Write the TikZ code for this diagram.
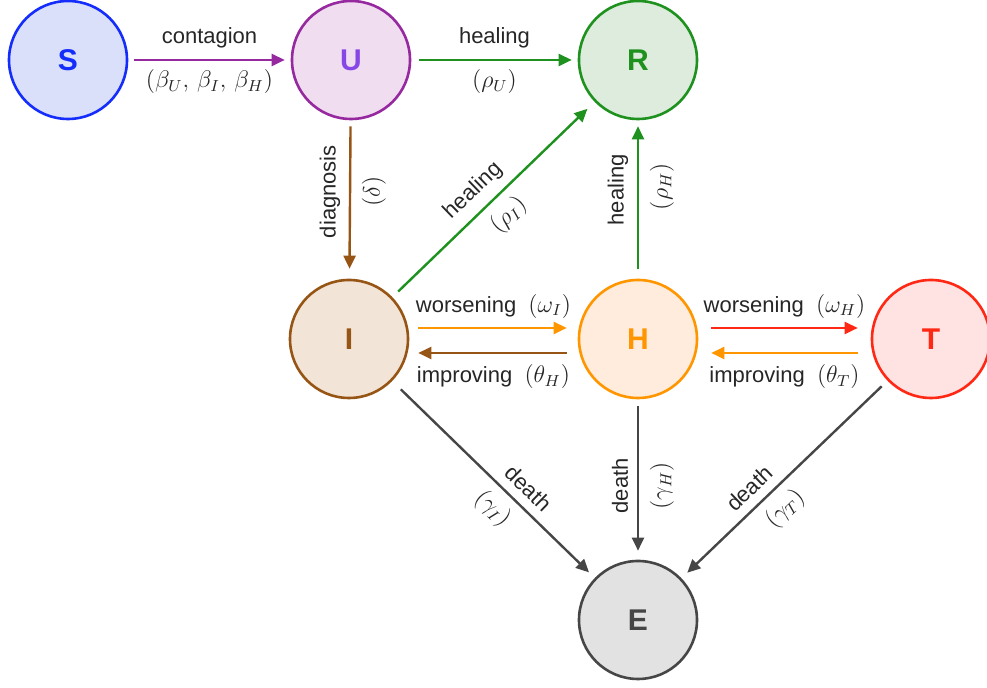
\documentclass[tikz,border=0pt]{standalone}
\usepackage[no-math]{fontspec}
\setmainfont{Liberation Sans}
\usetikzlibrary{arrows.meta}

\definecolor{sblue}{RGB}{20,45,250}
\definecolor{sfill}{RGB}{218,224,250}
\definecolor{upurple}{RGB}{150,40,160}
\definecolor{ufill}{RGB}{240,221,240}
\definecolor{uletter}{RGB}{135,70,230}
\definecolor{rgreen}{RGB}{30,145,30}
\definecolor{rfill}{RGB}{222,236,222}
\definecolor{ibrown}{RGB}{150,85,20}
\definecolor{ifill}{RGB}{242,228,214}
\definecolor{horange}{RGB}{255,150,0}
\definecolor{hfill}{RGB}{255,236,220}
\definecolor{tred}{RGB}{255,40,20}
\definecolor{tfill}{RGB}{255,226,226}
\definecolor{egray}{RGB}{70,70,70}
\definecolor{efill}{RGB}{226,226,226}

\newcommand{\rate}[1]{{\fontsize{12}{14}\selectfont$(#1)$}}

\begin{document}
\begin{tikzpicture}[x=0.5pt, y=-0.5pt,
    comp/.style={circle, line width=1.3pt, minimum size=59pt, inner sep=0pt,
                 font=\fontsize{15}{15}\selectfont\bfseries},
    flow/.style={line width=1.2pt, -{Triangle[length=6.5pt,width=6pt]}},
    lbl/.style={font=\fontsize{11}{13}\selectfont, text=black!85}]
        \useasboundingbox (0,0) rectangle (987,688);

        % compartments
        \node[comp, draw=sblue, fill=sfill, text=sblue] (S) at (68,60) {S};
        \node[comp, draw=upurple, fill=ufill, text=uletter] (U) at (351,60) {U};
        \node[comp, draw=rgreen, fill=rfill, text=rgreen] (R) at (638,60) {R};
        \node[comp, draw=ibrown, fill=ifill, text=ibrown] (I) at (349,339) {I};
        \node[comp, draw=horange, fill=hfill, text=horange] (H) at (638,339) {H};
        \node[comp, draw=tred, fill=tfill, text=tred] (T) at (931,339) {T};
        \node[comp, draw=egray, fill=efill, text=egray] (E) at (638,620) {E};

        % top row
        \draw[flow, upurple, shorten <=3pt, shorten >=3pt] (S) -- (U)
            node[lbl, midway, above=2pt] {contagion}
            node[lbl, midway, below=1pt] {\rate{\beta_U,\,\beta_I,\,\beta_H}};
        \draw[flow, rgreen, shorten <=4pt, shorten >=3pt] (U) -- (R)
            node[lbl, midway, above=2pt] {healing}
            node[lbl, midway, below=1pt] {\rate{\rho_U}};

        % vertical flows
        \draw[flow, ibrown, shorten <=3pt, shorten >=5pt] (U) -- (I)
            node[lbl, pos=.45, rotate=90, anchor=south, yshift=1pt] {diagnosis}
            node[lbl, pos=.45, rotate=90, anchor=north, yshift=-2pt] {\rate{\delta}};
        \draw[flow, rgreen, shorten <=5pt, shorten >=3pt] (H) -- (R)
            node[lbl, pos=.56, rotate=90, anchor=south, yshift=1pt] {healing}
            node[lbl, pos=.58, rotate=90, anchor=north, yshift=-2pt] {\rate{\rho_H}};
        \draw[flow, rgreen, shorten <=4pt, shorten >=5pt] (I) -- (R)
            node[lbl, pos=.47, sloped, above=1pt] {healing}
            node[lbl, pos=.5, sloped, below=1pt] {\rate{\rho_I}};

        % middle row
        \draw[flow, horange, shorten <=4.5pt, shorten >=5.5pt]
            ([yshift=5.5pt]I.east) -- ([yshift=5.5pt]H.west)
            node[lbl, midway, above=1pt] {worsening~~\rate{\omega_I}};
        \draw[flow, ibrown, shorten <=5.5pt, shorten >=4.5pt]
            ([yshift=-7pt]H.west) -- ([yshift=-7pt]I.east)
            node[lbl, midway, below=2pt] {improving~~\rate{\theta_H}};
        \draw[flow, tred, shorten <=6.5pt, shorten >=6.5pt]
            ([yshift=5.5pt]H.east) -- ([yshift=5.5pt]T.west)
            node[lbl, midway, above=1pt] {worsening~~\rate{\omega_H}};
        \draw[flow, horange, shorten <=6.5pt, shorten >=6.5pt]
            ([yshift=-7pt]T.west) -- ([yshift=-7pt]H.east)
            node[lbl, midway, below=2pt] {improving~~\rate{\theta_T}};

        % deaths
        \draw[flow, egray, shorten <=6pt, shorten >=4pt] (I) -- (E)
            node[lbl, pos=.61, sloped, above=1pt] {death}
            node[lbl, pos=.57, sloped, below=1pt] {\rate{\gamma_I}};
        \draw[flow, egray, shorten <=3.5pt, shorten >=4.5pt] (H) -- (E)
            node[lbl, pos=.54, rotate=90, anchor=south, yshift=1pt] {death}
            node[lbl, pos=.54, rotate=90, anchor=north, yshift=-2pt] {\rate{\gamma_H}};
        \draw[flow, egray, shorten <=4pt, shorten >=4pt] (T) -- (E)
            node[lbl, pos=.61, sloped, above=1pt] {death}
            node[lbl, pos=.57, sloped, below=1pt] {\rate{\gamma_T}};
\end{tikzpicture}
\end{document}
